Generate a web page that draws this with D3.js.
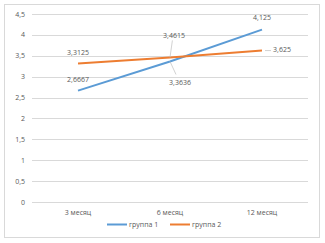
<!DOCTYPE html>
<html>
<head>
<meta charset="utf-8">
<script src="https://cdn.jsdelivr.net/npm/d3@7"></script>
<style>
  body { margin: 0; background: #fff; }
  text { font-family: 'Open Sans', sans-serif; fill: #595959; }
</style>
</head>
<body>
<figure style="margin:0"></figure>
<script>
const categories = ['3 месяц', '6 месяц', '12 месяц']
const group1 = [2.6667, 3.3636, 4.125]
const group2 = [3.3125, 3.4615, 3.625]
const seriesNames = ['группа 1', 'группа 2']
const yTicks = [0, 0.5, 1, 1.5, 2, 2.5, 3, 3.5, 4, 4.5]

const width = 325
const height = 243
const colors = ['#5B9BD5', '#ED7D31']
const fmt = v => String(v).replace('.', ',')

const svg = d3.select('figure').append('svg')
  .attr('width', width)
  .attr('height', height)

svg.append('rect')
  .attr('x', 4.5).attr('y', 4.5)
  .attr('width', 315).attr('height', 233)
  .attr('fill', '#fff')
  .attr('stroke', '#D9D9D9')

const x = d3.scaleBand().domain(categories).range([32, 308])
const y = d3.scaleLinear().domain([0, 4.5]).range([202, 14])
const cx = d => x(d) + x.bandwidth() / 2

// gridlines
svg.append('g')
  .selectAll('line')
  .data(yTicks)
  .join('line')
  .attr('x1', 32).attr('x2', 308)
  .attr('y1', d => Math.round(y(d)) + 0.5)
  .attr('y2', d => Math.round(y(d)) + 0.5)
  .attr('stroke', '#D9D9D9')
  .attr('stroke-width', 1)

// y labels
svg.append('g')
  .selectAll('text')
  .data(yTicks)
  .join('text')
  .attr('x', 25)
  .attr('y', d => y(d) + 2.5)
  .attr('text-anchor', 'end')
  .attr('font-size', 7)
  .text(d => fmt(d))

// x labels
svg.append('g')
  .selectAll('text')
  .data(categories)
  .join('text')
  .attr('x', d => cx(d))
  .attr('y', 215)
  .attr('text-anchor', 'middle')
  .attr('font-size', 7)
  .text(d => d)

const line = d3.line()
  .x((d, i) => cx(categories[i]))
  .y(d => y(d))

const series = [group1, group2]

series.forEach((s, k) => {
  svg.append('path')
    .datum(s)
    .attr('fill', 'none')
    .attr('stroke', colors[k])
    .attr('stroke-width', 2)
    .attr('d', line)
})

// data labels: [series, index, dx, dy, leader]
const labels = [
  [0, 0, 0, -11, false],
  [0, 1, 10, 21, true],
  [0, 2, 0, -12, false],
  [1, 0, 0, -11, false],
  [1, 1, 4, -22, true],
  [1, 2, 20, -1, true]
]

labels.forEach(([k, i, dx, dy, leader]) => {
  const px = cx(categories[i])
  const py = y(series[k][i])
  if (leader) {
    const lx = k === 1 && i === 2 ? px + 9 : px + dx * 0.6
    const ly = k === 1 && i === 2 ? py : py + dy + (dy < 0 ? 5 : -8)
    svg.append('line')
      .attr('x1', k === 1 && i === 2 ? px + 3 : px)
      .attr('y1', py)
      .attr('x2', lx).attr('y2', ly)
      .attr('stroke', '#BFBFBF')
      .attr('stroke-width', 0.7)
  }
  svg.append('text')
    .attr('x', px + dx)
    .attr('y', py + dy + 2.5)
    .attr('text-anchor', 'middle')
    .attr('font-size', 7)
    .text(fmt(series[k][i]))
})

// legend
const legend = svg.append('g')
seriesNames.forEach((name, k) => {
  const lx = 107 + k * 63
  legend.append('line')
    .attr('x1', lx).attr('x2', lx + 20)
    .attr('y1', 224.5).attr('y2', 224.5)
    .attr('stroke', colors[k])
    .attr('stroke-width', 2)
  legend.append('text')
    .attr('x', lx + 22)
    .attr('y', 227)
    .attr('font-size', 7)
    .text(name)
})
</script>
</body>
</html>
